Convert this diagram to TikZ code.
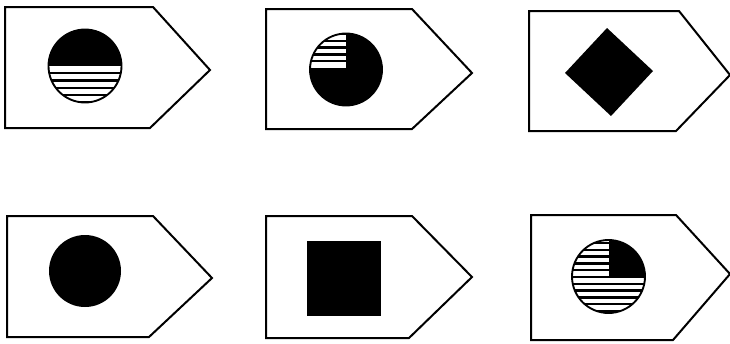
\documentclass[tikz,border=0pt]{standalone}
\begin{document}
\begin{tikzpicture}[x=0.75pt,y=-0.75pt,
  tagshape/.style={draw=black, line width=1.5pt, line join=miter, fill=white},
  hatchline/.style={draw=black, line width=1.7pt},
  rim/.style={draw=black, line width=1.4pt}]
\useasboundingbox[fill=white] (0,0) rectangle (730,343);

% ---------- tag 1 ----------
\draw[tagshape] (5,7) -- (153,7) -- (210,70) -- (150,128) -- (5,128) -- cycle;
\begin{scope}
  \clip (85,66) circle (36.5);
  \fill[black] (48,29) rectangle (122,66);
  \foreach \k in {1,...,5} \draw[hatchline] (48,66+\k*7.3) -- (122,66+\k*7.3);
\end{scope}
\draw[rim] (85,66) circle (36.5);

% ---------- tag 2 ----------
\draw[tagshape] (266,9) -- (412,9) -- (472,73) -- (412,129) -- (266,129) -- cycle;
\begin{scope}
  \clip (346,69.5) circle (36);
  \fill[black] (346,69.5) circle (36);
  \fill[white] (309,33) rectangle (346,68);
  \foreach \k in {1,...,5} \draw[hatchline] (309,68-\k*6.8) -- (346,68-\k*6.8);
\end{scope}
\draw[rim] (346,69.5) circle (36);

% ---------- tag 3 ----------
\draw[tagshape] (529,11) -- (679,11) -- (730,75) -- (676,131) -- (529,131) -- cycle;
\fill[black] (607,28) -- (653,71) -- (611,116) -- (565,73) -- cycle;

% ---------- tag 4 ----------
\draw[tagshape] (7,216) -- (153,216) -- (212,278) -- (149,337) -- (7,337) -- cycle;
\fill[black] (85,271) circle (36);

% ---------- tag 5 ----------
\draw[tagshape] (266,216) -- (412,216) -- (472,277) -- (409,338) -- (266,338) -- cycle;
\fill[black] (307,241) rectangle (381,316);

% ---------- tag 6 ----------
\draw[tagshape] (531,215) -- (676,215) -- (730,274) -- (673,340) -- (531,340) -- cycle;
\begin{scope}
  \clip (608.5,276.5) circle (36.5);
  \fill[black] (608.5,239) rectangle (646,277);
  \foreach \k in {1,...,5} \draw[hatchline] (571,277-\k*6.8) -- (608.5,277-\k*6.8);
  \foreach \k in {0,...,5} \draw[hatchline] (571,277+\k*6.8) -- (646,277+\k*6.8);
\end{scope}
\draw[rim] (608.5,276.5) circle (36.5);
\end{tikzpicture}
\end{document}
